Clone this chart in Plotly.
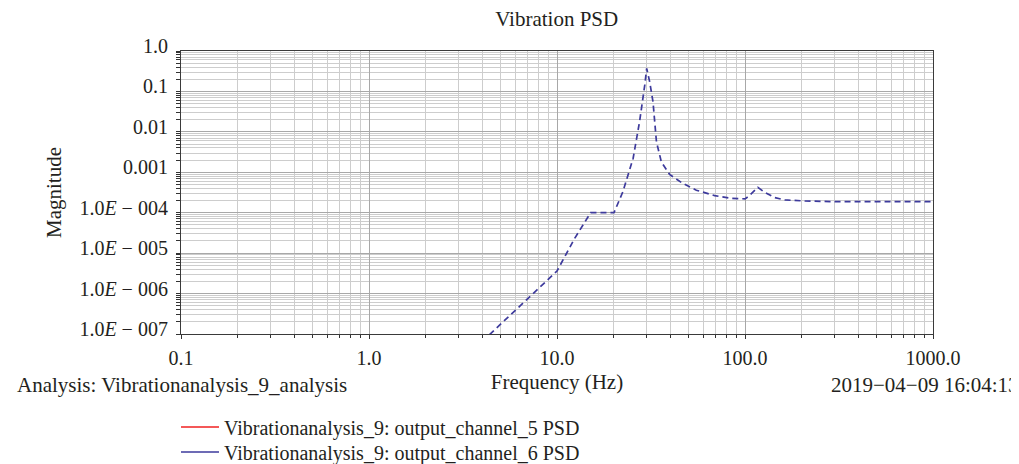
import plotly.graph_objects as go

# ---- data ----
freq_ch6 = [4.0, 4.95, 10.0, 12.4, 15.1, 20.1, 22.4, 25.4, 26.4, 27.5, 29.3, 30.0,
            31.1, 32.4, 33.8, 35.9, 39.7, 46.7, 55.1, 69.0, 84.5, 100.0, 104.0,
            117.0, 127.0, 144.0, 163.0, 208.0, 300.0, 1000.0]
psd_ch6 = [6.5e-8, 1.67e-7, 3.6e-6, 2.3e-5, 1.0e-4, 1.0e-4, 3.3e-4, 2.2e-3, 5.7e-3,
           1.8e-2, 0.144, 0.37, 0.175, 0.056, 5.7e-3, 1.8e-3, 8.9e-4, 5.3e-4, 3.6e-4,
           2.65e-4, 2.27e-4, 2.2e-4, 2.5e-4, 4.25e-4, 3.2e-4, 2.37e-4, 2.07e-4,
           1.95e-4, 1.88e-4, 1.88e-4]
freq_ch5 = [None]
psd_ch5 = [None]

x_tickvals = [0.1, 1, 10, 100, 1000]
x_ticktext = ["0.1", "1.0", "10.0", "100.0", "1000.0"]
y_tickvals = [1, 0.1, 0.01, 0.001, 1e-4, 1e-5, 1e-6, 1e-7]
y_ticktext = ["1.0", "0.1", "0.01", "0.001",
              "1.0<i>E</i> − 004", "1.0<i>E</i> − 005",
              "1.0<i>E</i> − 006", "1.0<i>E</i> − 007"]

x_minor = [k * 10.0 ** e for e in range(-1, 3) for k in range(2, 10)]
y_minor = [k * 10.0 ** e for e in range(-7, 0) for k in range(2, 10)]

name5 = "Vibrationanalysis_9: output_channel_5 PSD"
name6 = "Vibrationanalysis_9: output_channel_6 PSD"

FONT = "Liberation Serif"
TXT = "#231f20"
BLUE = "#3d3a9c"
RED = "#f02020"
TICKSIZE = 20
TEXTSIZE = 21

fig = go.Figure()
fig.add_trace(go.Scatter(x=freq_ch5, y=psd_ch5, mode="lines", name=name5,
                         legend="legend",
                         line=dict(color=RED, width=1.3)))
fig.add_trace(go.Scatter(x=[None], y=[None], mode="lines", name=name6,
                         legend="legend2",
                         line=dict(color=BLUE, width=1.3)))
fig.add_trace(go.Scatter(x=freq_ch6, y=psd_ch6, mode="lines", name=name6,
                         showlegend=False,
                         line=dict(color=BLUE, width=1.7, dash="6px,4px")))

leg_common = dict(xref="container", yref="container", xanchor="left",
                  yanchor="middle", itemwidth=38,
                  font=dict(family=FONT, size=20, color=TXT),
                  bgcolor="rgba(0,0,0,0)", borderwidth=0)

fig.update_layout(
    template="none",
    width=1019, height=464,
    margin=dict(l=173, r=94, t=43, b=138, autoexpand=False),
    paper_bgcolor="white", plot_bgcolor="white",
    font=dict(family=FONT, size=TICKSIZE, color=TXT),
    title=dict(text="Vibration PSD", x=0.5385, xanchor="center",
               xref="container", yref="container", y=1, yanchor="top",
               pad=dict(t=3), font=dict(family=FONT, size=TEXTSIZE, color=TXT)),
    showlegend=True,
    legend=dict(x=168 / 1019, y=1 - 419 / 464, **leg_common),
    legend2=dict(x=168 / 1019, y=1 - 444 / 464, **leg_common),
)

fig.update_xaxes(
    type="log", range=[-1, 3], automargin=True,
    tickmode="array", tickvals=x_tickvals, ticktext=x_ticktext,
    tickfont=dict(family=FONT, size=TICKSIZE, color=TXT),
    ticks="outside", ticklen=4, tickcolor="#333", ticklabelstandoff=2,
    showline=True, linecolor="#3a3a3a", linewidth=1.2, mirror=True,
    showgrid=True, gridcolor="#a8a8a8", gridwidth=1,
    zeroline=False,
    minor=dict(tickmode="array", tickvals=x_minor, ticks="outside", ticklen=3,
               tickcolor="#333", showgrid=True, gridcolor="#cdcdcd", gridwidth=1),
    title=dict(text="Frequency (Hz)", standoff=6,
               font=dict(family=FONT, size=TEXTSIZE, color=TXT)),
)
fig.update_yaxes(
    type="log", range=[-7, 0], automargin=True,
    tickmode="array", tickvals=y_tickvals, ticktext=y_ticktext,
    tickfont=dict(family=FONT, size=TICKSIZE, color=TXT),
    ticks="outside", ticklen=4, tickcolor="#333", ticklabelstandoff=4,
    ticklabelshift=-5,
    showline=True, linecolor="#3a3a3a", linewidth=1.2, mirror=True,
    showgrid=True, gridcolor="#a8a8a8", gridwidth=1,
    zeroline=False,
    minor=dict(tickmode="array", tickvals=y_minor, ticks="outside", ticklen=4,
               tickcolor="#333", showgrid=True, gridcolor="#cdcdcd", gridwidth=1),
)

# y-axis title
fig.add_annotation(text="Magnitude", xref="paper", yref="paper",
                   x=-0.1695, y=0.5, xanchor="center", yanchor="middle",
                   textangle=-90, showarrow=False,
                   font=dict(family=FONT, size=TEXTSIZE, color=TXT))
fig.add_annotation(text="Analysis: Vibrationanalysis_9_analysis",
                   xref="paper", yref="paper", x=-0.2207, y=-0.181,
                   xanchor="left", yanchor="middle", showarrow=False,
                   font=dict(family=FONT, size=TEXTSIZE, color=TXT))
fig.add_annotation(text="2019−04−09 16:04:13",
                   xref="paper", yref="paper", x=1.117, y=-0.181,
                   xanchor="right", yanchor="middle", showarrow=False,
                   font=dict(family=FONT, size=TEXTSIZE, color=TXT))

fig.write_html("out.html")
